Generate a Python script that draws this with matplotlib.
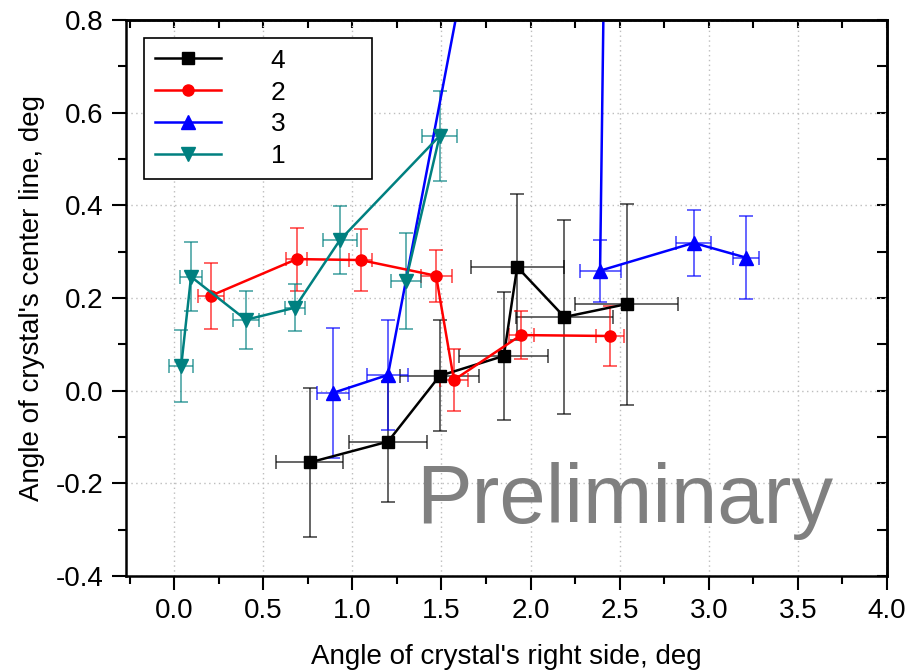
import numpy as np
import matplotlib
matplotlib.use('Agg')
import matplotlib.pyplot as plt

plt.rcParams['font.family'] = ['Liberation Sans', 'DejaVu Sans']

# series "4" (black squares)
x4 = [0.76, 1.20, 1.49, 1.85, 1.925, 2.19, 2.54]
y4 = [-0.155, -0.11, 0.032, 0.075, 0.267, 0.159, 0.187]
xe4 = [0.19, 0.22, 0.22, 0.25, 0.26, 0.27, 0.29]
ye4 = [0.16, 0.13, 0.12, 0.138, 0.157, 0.21, 0.217]

# series "2" (red circles)
x2 = [0.207, 0.688, 1.046, 1.47, 1.57, 1.947, 2.445]
y2 = [0.205, 0.284, 0.282, 0.248, 0.023, 0.12, 0.118]
xe2 = [0.075, 0.06, 0.067, 0.087, 0.08, 0.07, 0.078]
ye2 = [0.071, 0.068, 0.066, 0.056, 0.066, 0.051, 0.065]

# series "3" (blue triangles), third point is far above the plot
x3 = [0.89, 1.20, 2.47, 2.39, 2.915, 3.21]
y3 = [-0.005, 0.034, 2.6, 0.259, 0.319, 0.287]
xe3 = [0.09, 0.115, 0.1, 0.115, 0.10, 0.073]
ye3 = [0.14, 0.118, 0.1, 0.067, 0.072, 0.09]

# series "1" (teal down triangles)
x1 = [0.04, 0.095, 0.403, 0.677, 0.93, 1.49, 1.30]
y1 = [0.054, 0.246, 0.153, 0.179, 0.325, 0.55, 0.237]
xe1 = [0.067, 0.06, 0.073, 0.056, 0.095, 0.098, 0.084]
ye1 = [0.078, 0.074, 0.063, 0.051, 0.073, 0.097, 0.104]

labels = ['4', '2', '3', '1']

fig = plt.figure(figsize=(9.09, 6.70), dpi=100)
ax = fig.add_axes([0.1386, 0.1403, 0.8372, 0.8298])

series = [
    (x4, y4, xe4, ye4, 'black', 's', 8),
    (x2, y2, xe2, ye2, '#ff0000', 'o', 8),
    (x3, y3, xe3, ye3, '#0000ff', '^', 10),
    (x1, y1, xe1, ye1, '#008080', 'v', 10),
]

handles = []
for (x, y, xe, ye, c, m, ms), lab in zip(series, labels):
    cont = ax.errorbar(x, y, xerr=xe, yerr=ye, color=c, marker=m, ms=ms,
                       lw=1.8, elinewidth=1.2, capsize=5, capthick=1.2,
                       ecolor=c, label=lab)
    for artist in cont[1] + cont[2]:
        artist.set_alpha(0.7)
    handles.append(cont[0])

ax.set_xlim(-0.27, 4.0)
ax.set_ylim(-0.4, 0.8)
ax.set_xticks(np.arange(0, 4.01, 0.5))
ax.set_xticks(np.arange(-0.25, 4.01, 0.25), minor=True)
ax.set_yticks(np.arange(-0.4, 0.81, 0.2))
ax.set_yticks(np.arange(-0.4, 0.81, 0.1), minor=True)
ax.set_xticklabels(['%.1f' % v for v in np.arange(0, 4.01, 0.5)])
ax.set_yticklabels(['%.1f' % v for v in np.arange(-0.4, 0.81, 0.2)])
ax.tick_params(which='major', direction='out', length=10, width=1.5,
               labelsize=20, pad=6)
ax.tick_params(which='minor', direction='out', length=6, width=1.5)
ax.grid(True, which='major', color='#bdbdbd', linestyle=(0, (1, 2.5)), lw=1)

for s in ax.spines.values():
    s.set_linewidth(1.8)

top = ax.secondary_xaxis('top')
top.set_xticks(np.arange(-0.25, 4.01, 0.25))
top.tick_params(direction='in', length=6, width=1.5, labeltop=False)
top.spines['top'].set_linewidth(1.8)
right = ax.secondary_yaxis('right')
right.set_yticks(np.arange(-0.4, 0.81, 0.1))
right.tick_params(direction='in', length=7, width=1.5, labelright=False)
right.spines['right'].set_linewidth(1.8)

ax.set_xlabel("Angle of crystal's right side, deg", fontsize=20, labelpad=14)
ax.set_ylabel("Angle of crystal's center line, deg", fontsize=20, labelpad=8)

ax.text(1.36, -0.285, 'Preliminary', fontsize=60, color='#808080',
        ha='left', va='baseline')

leg = ax.legend(handles, labels, loc='upper left',
                bbox_to_anchor=(0.0237, 0.9676, 0.2995, 0.0), mode='expand',
                fontsize=19, handlelength=2.5, handletextpad=1.9,
                borderpad=0.4, labelspacing=0.3, borderaxespad=0,
                fancybox=False, framealpha=1, edgecolor='black')
leg.get_frame().set_linewidth(1.2)

fig.savefig('out.png', dpi=100)
